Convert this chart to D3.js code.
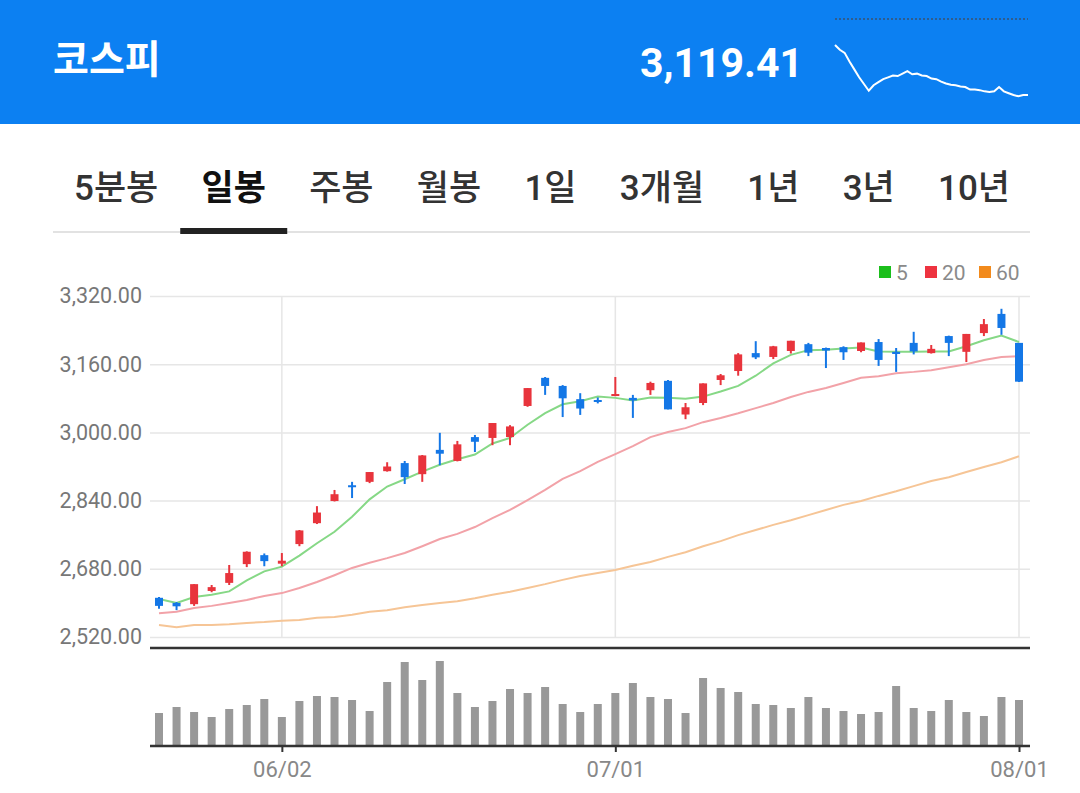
<!DOCTYPE html>
<html>
<head>
<meta charset="utf-8">
<script src="https://cdn.jsdelivr.net/npm/d3@7"></script>
<style>
  body { margin: 0; background: #fff; }
  text { font-family: Roboto, "Noto Sans CJK KR", sans-serif; }
</style>
</head>
<body>
<svg id="chart" width="1080" height="793"></svg>
<script>
// KOSPI daily candles, 2025-05-22 .. 2025-08-01
const dates = ["05/22","05/23","05/26","05/27","05/28","05/29","05/30",
  "06/02","06/04","06/05","06/09","06/10","06/11","06/12","06/13","06/16","06/17","06/18","06/19","06/20",
  "06/23","06/24","06/25","06/26","06/27","06/30",
  "07/01","07/02","07/03","07/04","07/07","07/08","07/09","07/10","07/11","07/14","07/15","07/16","07/17",
  "07/18","07/21","07/22","07/23","07/24","07/25","07/28","07/29","07/30","07/31","08/01"];

const open  = [2612,2600,2597,2628,2647,2691,2712,2692,2738,2787,2839,2876,2884,2909,2928,2902,2959,2933,2989,2987,
  2989,3062,3128,3109,3078,3076,3086,3081,3099,3121,3042,3069,3123,3144,3186,3177,3191,3207,3198,3200,
  3191,3212,3189,3210,3186,3226,3189,3233,3278,3210];
const high  = [2614,2602,2644,2642,2689,2721,2716,2717,2771,2827,2865,2884,2907,2930,2933,2947,2999,2980,2994,3022,
  3017,3104,3130,3111,3092,3082,3130,3088,3119,3123,3069,3115,3137,3186,3214,3203,3215,3210,3199,3202,
  3211,3219,3198,3236,3205,3227,3231,3266,3290,3210];
const low   = [2586,2583,2593,2625,2642,2684,2686,2686,2733,2785,2838,2846,2881,2908,2879,2884,2923,2932,2954,2970,
  2970,3060,3088,3036,3041,3068,3085,3034,3088,3054,3031,3064,3111,3133,3172,3172,3185,3179,3151,3170,
  3188,3156,3142,3183,3185,3179,3165,3226,3229,3118];
const close = [2593,2592,2644,2637,2670,2720,2698,2699,2770,2812,2855,2872,2907,2920,2895,2946,2950,2972,2978,3022,
  3014,3104,3109,3080,3056,3072,3090,3075,3116,3054,3059,3115,3134,3183,3176,3202,3215,3187,3192,3188,
  3211,3170,3184,3190,3196,3210,3231,3254,3245,3119];

// moving averages as drawn
const ma5  = [2609,2600,2614,2619,2627,2653,2674,2685,2711,2740,2767,2802,2843,2873,2890,2908,2924,2937,2948,2974,
  2987,3018,3045,3066,3073,3084,3081,3075,3082,3081,3079,3084,3096,3109,3133,3162,3182,3193,3194,3197,
  3199,3190,3189,3189,3190,3190,3202,3216,3227,3212];
const ma20 = [2576,2579,2588,2593,2600,2607,2616,2623,2635,2649,2665,2682,2694,2705,2717,2733,2750,2762,2778,2799,
  2818,2841,2865,2891,2909,2931,2949,2968,2989,3001,3010,3024,3034,3045,3057,3069,3083,3095,3104,3116,
  3128,3132,3139,3142,3146,3153,3160,3170,3177,3179];
const ma60 = [2548,2543,2548,2548,2550,2553,2555,2558,2560,2565,2567,2572,2579,2583,2590,2595,2600,2604,2611,2619,
  2626,2635,2644,2654,2663,2670,2677,2687,2696,2708,2719,2733,2745,2759,2771,2783,2794,2806,2818,2830,
  2839,2851,2862,2874,2886,2895,2907,2919,2930,2944];

const volume = [330,390,340,290,370,410,470,290,450,500,490,460,350,640,840,660,850,530,390,450,
  570,530,590,420,340,420,530,630,490,470,330,680,580,540,420,410,380,490,380,350,
  320,340,600,380,350,460,340,300,490,460];

const priceTicks = [2520, 2680, 2840, 3000, 3160, 3320];
const dateTicks = ["06/02", "07/01", "08/01"];

const tabs = ["5분봉", "일봉", "주봉", "월봉", "1일", "3개월", "1년", "3년", "10년"];
const activeTab = "일봉";

const legend = [{name: "5", color: "#1cbf1c"}, {name: "20", color: "#ee3340"}, {name: "60", color: "#f28a1c"}];
const maColors = ["#86d886", "#f2a2a8", "#f6c596"];

// intraday sparkline of the last session, previous close shown as dotted line
const prevClose = 3245.44;
const lastPrice = 3119.41;
const intraday = [3203,3195,3190,3176,3163,3150,3139,3128,3137,3142,3147,3150,3153,3152,3156,3160,3155,3156,3153,3152,
  3148,3147,3143,3140,3138,3137,3135,3134,3130,3130,3129,3127,3126,3127,3134,3127,3124,3121,3119,3121,3121];

const svg = d3.select("#chart");

// ---------- header ----------
svg.append("rect").attr("x", 0).attr("y", 0).attr("width", 1080).attr("height", 124).attr("fill", "#0c80f2");
svg.append("text").attr("x", 53).attr("y", 73).attr("fill", "#fff")
  .style("font-size", "39px").style("font-weight", "700").text("코스피");
svg.append("text").attr("x", 803).attr("y", 77).attr("fill", "#fff").attr("text-anchor", "end")
  .style("font-size", "41px").style("font-weight", "700").text(d3.format(",.2f")(lastPrice));

let sx = d3.scaleLinear().domain([0, intraday.length - 1]).range([835, 1028]);
let sy = d3.scaleLinear().domain([lastPrice, prevClose]).range([96, 19]);
svg.append("line").attr("x1", 835).attr("x2", 1028).attr("y1", sy(prevClose)).attr("y2", sy(prevClose))
  .attr("stroke", "#2f5d8f").attr("stroke-width", 2).attr("stroke-dasharray", "2,2");
svg.append("path").datum(intraday)
  .attr("d", d3.line().x((d, i) => sx(i)).y(d => sy(d)))
  .attr("fill", "none").attr("stroke", "#fff").attr("stroke-width", 2);

// ---------- period tabs ----------
let tabG = svg.append("g");
let tabText = tabG.selectAll("text").data(tabs).enter().append("text")
  .attr("y", 200)
  .attr("fill", d => d === activeTab ? "#111" : "#333")
  .style("font-size", "35px")
  .style("font-weight", d => d === activeTab ? "700" : "500")
  .text(d => d);
let widths = tabText.nodes().map(n => n.getComputedTextLength());
let gap = (936 - d3.sum(widths)) / (tabs.length - 1);
let cursor = 74, centers = [];
tabText.attr("x", (d, i) => { let x = cursor; centers.push(x + widths[i] / 2); cursor += widths[i] + gap; return x; });
svg.append("line").attr("x1", 53).attr("x2", 1030).attr("y1", 232).attr("y2", 232)
  .attr("stroke", "#e2e2e2").attr("stroke-width", 2);
let ai = tabs.indexOf(activeTab);
svg.append("rect").attr("x", centers[ai] - 53.5).attr("y", 228).attr("width", 107).attr("height", 6).attr("fill", "#222");

// ---------- scales ----------
const left = 150, right = 1030;
let x = d3.scalePoint().domain(dates).range([159, 1019]);
let y = d3.scaleLinear().domain([2520, 3320]).range([637, 296]);
let yv = d3.scaleLinear().domain([0, 980]).range([746, 648]);

// horizontal grid + labels
let yAxis = svg.append("g").attr("transform", `translate(${left},0)`)
  .call(d3.axisLeft(y).tickValues(priceTicks).tickFormat(d3.format(",.2f"))
    .tickSize(-(right - left)).tickPadding(8));
yAxis.select(".domain").remove();
yAxis.selectAll(".tick line").attr("stroke", "#e6e6e6").attr("stroke-width", 1.5);
yAxis.selectAll(".tick text").attr("fill", "#777").style("font-size", "21.5px")
  .style("font-family", "Roboto, sans-serif");

// vertical grid at the date ticks
svg.append("g").selectAll("line").data(dateTicks).enter().append("line")
  .attr("x1", d => x(d)).attr("x2", d => x(d)).attr("y1", y(3320)).attr("y2", y(2520))
  .attr("stroke", "#e6e6e6").attr("stroke-width", 1.5);

// legend
let lg = svg.append("g").selectAll("g").data(legend).enter().append("g");
let lx = [879, 925, 979];
lg.append("rect").attr("x", (d, i) => lx[i]).attr("y", 266).attr("width", 12).attr("height", 12).attr("fill", d => d.color);
lg.append("text").attr("x", (d, i) => lx[i] + 17).attr("y", 280).attr("fill", "#8a8a8a")
  .style("font-size", "21px").text(d => d.name);

// moving averages
[ma60, ma20, ma5].forEach((s, k) => {
  svg.append("path").datum(s)
    .attr("d", d3.line().x((d, i) => x(dates[i])).y(d => y(d)))
    .attr("fill", "none").attr("stroke", maColors[2 - k]).attr("stroke-width", 2);
});

// candles
let candles = svg.append("g").selectAll("g").data(dates).enter().append("g");
let col = i => close[i] >= open[i] ? "#e8343c" : "#1477e6";
candles.append("line")
  .attr("x1", d => x(d)).attr("x2", d => x(d))
  .attr("y1", (d, i) => y(high[i])).attr("y2", (d, i) => y(low[i]))
  .attr("stroke", (d, i) => col(i)).attr("stroke-width", 2);
candles.append("rect")
  .attr("x", d => x(d) - 4).attr("width", 8)
  .attr("y", (d, i) => y(Math.max(open[i], close[i])))
  .attr("height", (d, i) => Math.max(2, Math.abs(y(open[i]) - y(close[i]))))
  .attr("fill", (d, i) => col(i));

// ---------- volume ----------
svg.append("g").selectAll("rect").data(dates).enter().append("rect")
  .attr("x", d => x(d) - 4).attr("width", 8)
  .attr("y", (d, i) => yv(volume[i]))
  .attr("height", (d, i) => yv(0) - yv(volume[i]))
  .attr("fill", "#999");

svg.append("line").attr("x1", left).attr("x2", right).attr("y1", 648).attr("y2", 648)
  .attr("stroke", "#333").attr("stroke-width", 2.5);

let xAxis = svg.append("g").attr("transform", `translate(0,${yv(0)})`)
  .call(d3.axisBottom(x).tickValues(dateTicks).tickSize(6).tickPadding(9));
xAxis.select(".domain").remove();
xAxis.selectAll(".tick line").attr("stroke", "#333").attr("stroke-width", 2);
xAxis.selectAll(".tick text").attr("fill", "#888").style("font-size", "22px")
  .style("font-family", "Roboto, sans-serif");
svg.append("line").attr("x1", left).attr("x2", right).attr("y1", yv(0)).attr("y2", yv(0))
  .attr("stroke", "#333").attr("stroke-width", 2.5);
</script>
</body>
</html>
